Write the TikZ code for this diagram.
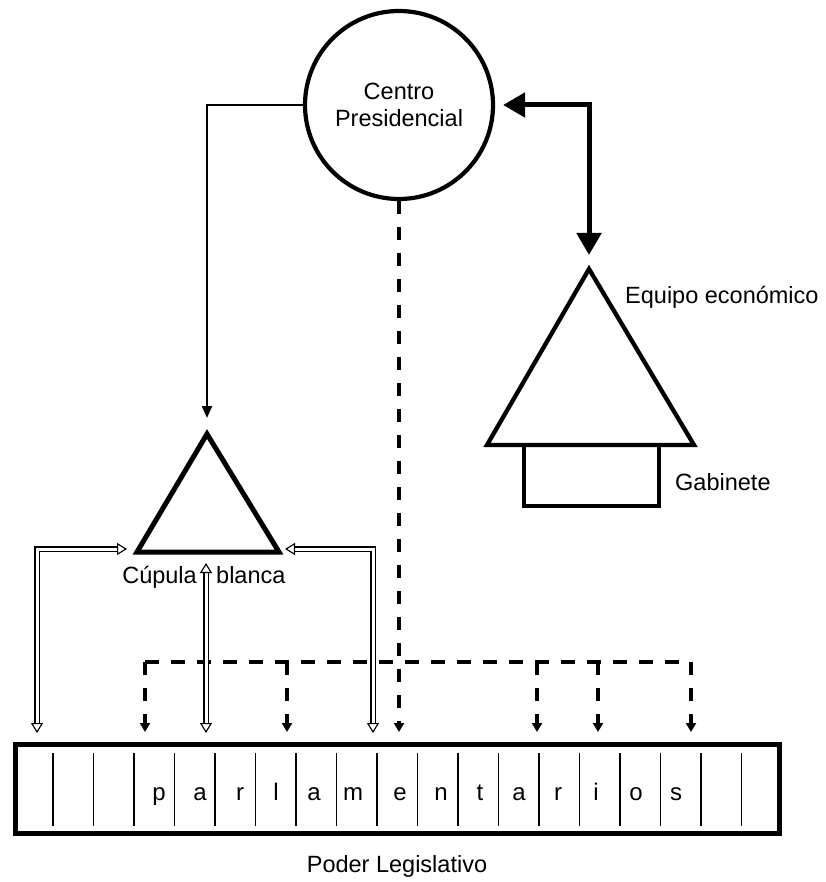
\documentclass[tikz,border=0pt]{standalone}
\usepackage{fontspec}
\setmainfont{Liberation Sans}
\usetikzlibrary{arrows.meta}
\begin{document}
\begin{tikzpicture}[x=1pt,y=-1pt,
  every node/.style={font=\fontsize{23.5}{27}\selectfont, inner sep=0pt},
  lbl/.style={anchor=base},
  cell/.style={anchor=base, font=\fontsize{24}{28}\selectfont},
  thinarrow/.style={line width=2pt, -{Triangle[length=12pt,width=10pt]}},
  heavyarrow/.style={line width=5pt, {Triangle[length=22pt,width=24pt]}-{Triangle[length=22pt,width=24pt]}},
  dashline/.style={line width=3.6pt, dash pattern=on 14pt off 12pt},
  dashdrop/.style={line width=3.2pt, dash pattern=on 13pt off 13pt, -{Triangle[length=9pt,width=10pt]}, shorten >=10pt},
  dblline/.style={line width=1.1pt, double=white, double distance=3pt, shorten <=18pt, shorten >=18pt},
  dbltips/.style={line width=1.1pt, dash pattern=on 0pt off 5000pt, shorten <=9pt, shorten >=9pt,
    {Triangle[open,length=10pt,width=12pt]}-{Triangle[open,length=10pt,width=12pt]}},
  shapeline/.style={line width=5pt, line join=miter},
  divider/.style={line width=1.6pt}
]
\useasboundingbox (0,0) rectangle (825,882);

% presidential centre
\node[circle, draw, line width=4.2pt, minimum size=188pt, align=center] (cp) at (399,105) {Centro\\Presidencial};

% Cupula blanca triangle
\coordinate (cA) at (207,434);
\coordinate (cL) at (137,552);
\coordinate (cR) at (279,552);
\draw[shapeline] (cA) -- (cL) -- (cR) -- cycle;
\node[lbl, anchor=base east] (cup1) at (197,583) {Cúpula};
\node[lbl, anchor=base west] (cup2) at (216,583) {blanca};

% economic team and cabinet
\coordinate (eA) at (589,269);
\coordinate (eL) at (487,445);
\coordinate (eR) at (694,445);
\draw[shapeline, line width=4.3pt] (eA) -- (eL) -- (eR) -- cycle;
\draw[line width=4.3pt] (524,445) rectangle (659,506);
\node[lbl, anchor=base west] (eq) at (625,303) {Equipo económico};
\node[lbl, anchor=base west] (gab) at (675,490) {Gabinete};

% legislature
\draw[line width=5pt] (15.5,744.5) rectangle (779.5,833.5);
\foreach \i in {0,...,17}
  \draw[divider] ({53+40.5*\i},753) -- ({53+40.5*\i},826);
\foreach \x/\l [count=\k] in {159/p,200/a,240/r,276/l,314/a,353/m,400/e,441/n,480/t,519/a,558/r,596/i,636/o,676/s}
  \node[cell] (ltr\k) at (\x,800) {\l};
\node[lbl, anchor=base] (poder) at (397,872) {Poder Legislativo};

% solid connectors
\draw[thinarrow, shorten >=16pt] (cp.west) -| (cA);
\draw[heavyarrow, shorten <=8pt, shorten >=14pt] (cp.east) -| (eA);

% dashed connectors
\coordinate (dm) at (399,742);
\draw[dashdrop, line width=3.6pt] (cp.south) -- (dm);
\coordinate (hL) at (145,662);
\coordinate (hR) at (691,662);
\draw[dashline] (hL) -- (hR);
\foreach \x [count=\k] in {145,287,537,598,691} {
  \coordinate (j\k) at (\x,662);
  \coordinate (d\k) at (\x,742);
  \draw[dashdrop] (j\k) -- (d\k);
}

% double (two-way) connectors
\coordinate (bl) at (37,742);
\coordinate (tl) at (136,549);
\coordinate (bm) at (206,742);
\coordinate (tm) at (206,554);
\coordinate (br) at (373,742);
\coordinate (tr) at (276,549);
\draw[dblline] (bl) |- (tl);
\draw[dbltips] (bl) |- (tl);
\draw[dblline] (bm) -- (tm);
\draw[dbltips] (bm) -- (tm);
\draw[dblline] (br) |- (tr);
\draw[dbltips] (br) |- (tr);
\end{tikzpicture}
\end{document}
